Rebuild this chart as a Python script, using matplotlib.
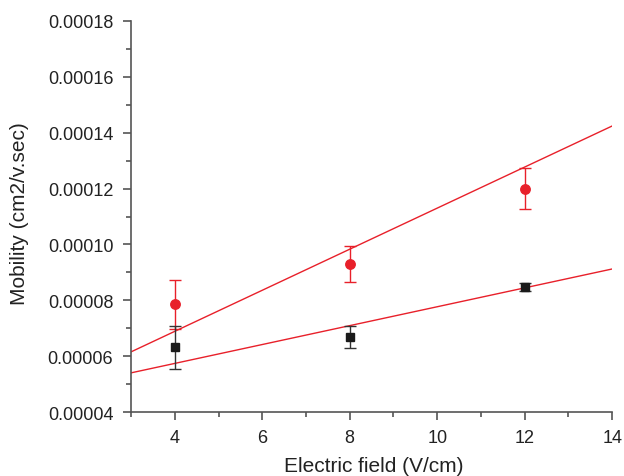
import numpy as np
import matplotlib.pyplot as plt
from matplotlib.ticker import MultipleLocator, FormatStrFormatter

plt.rcParams['font.family'] = ['Liberation Sans', 'DejaVu Sans']

# electric field (V/cm)
field = [4, 8, 12]

# mobility, red circles
mob_red = [7.86e-5, 9.30e-5, 1.200e-4]
err_red = [8.7e-6, 6.5e-6, 7.4e-6]

# mobility, black squares
mob_black = [6.32e-5, 6.68e-5, 8.47e-5]
err_black = [7.7e-6, 4.0e-6, 1.5e-6]

# fitted lines (slope, intercept)
fit_red = (7.35e-6, 3.95e-5)
fit_black = (3.38e-6, 4.39e-5)

fig = plt.figure(figsize=(6.24, 4.77), dpi=100)
ax = fig.add_axes([0.21, 0.134, 0.771, 0.820])

xf = np.array([3, 14])
ax.plot(xf, fit_red[0] * xf + fit_red[1], color='#e8202a', lw=1.0, zorder=2)
ax.plot(xf, fit_black[0] * xf + fit_black[1], color='#e8202a', lw=1.0, zorder=2)

ax.errorbar(field, mob_red, yerr=err_red, fmt='o', color='#e8202a', ms=6.8,
            capsize=4, elinewidth=1.0, capthick=1.0, zorder=3)
ax.errorbar(field, mob_black, yerr=err_black, fmt='s', color='#1a1a1a', ms=5.8,
            ecolor='#333333', capsize=4, elinewidth=1.0, capthick=1.0, zorder=3)

ax.set_xlim(3, 14)
ax.set_ylim(0.00004, 0.00018)
ax.xaxis.set_major_locator(MultipleLocator(2))
ax.xaxis.set_minor_locator(MultipleLocator(1))
ax.yaxis.set_major_locator(MultipleLocator(0.00002))
ax.yaxis.set_minor_locator(MultipleLocator(0.00001))
ax.yaxis.set_major_formatter(FormatStrFormatter('%.5f'))

for s in ['top', 'right']:
    ax.spines[s].set_visible(False)
for s in ['left', 'bottom']:
    ax.spines[s].set_color('#555555')
    ax.spines[s].set_linewidth(1.2)

ax.tick_params(which='major', length=5.8, width=1.2, color='#555555',
               labelsize=13, labelcolor='#222222')
ax.tick_params(axis='x', which='major', pad=6.5)
ax.tick_params(axis='y', which='major', pad=7)
ax.tick_params(which='minor', length=3.4, width=1.2, color='#555555')

ax.set_xlabel('Electric field (V/cm)', fontsize=15, color='#222222', va='center')
ax.set_ylabel('Mobility (cm2/v.sec)', fontsize=15, color='#222222', va='center')
ax.xaxis.set_label_coords(0.504, -0.1355)
ax.yaxis.set_label_coords(-0.231, 0.51)

fig.savefig('out.png', dpi=100)
